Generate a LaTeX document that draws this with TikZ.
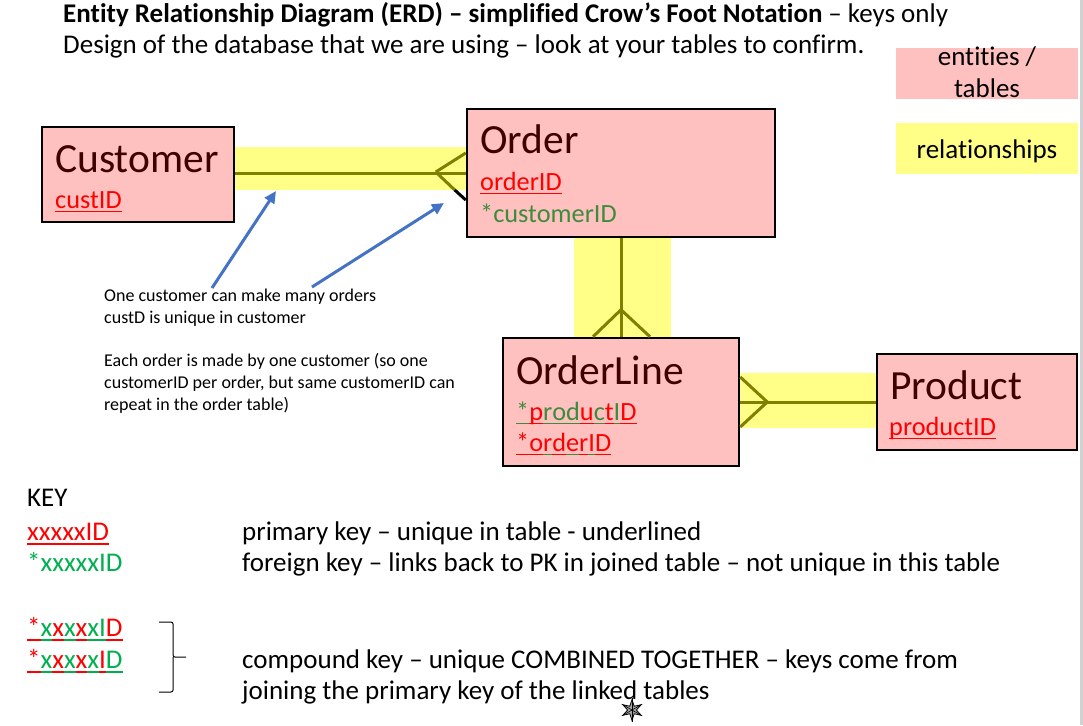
\documentclass[tikz,border=0pt]{standalone}
\usepackage{fontspec}
\setmainfont{Carlito}[Ligatures={NoCommon}]
\usetikzlibrary{arrows.meta,shapes.geometric,calc}
\definecolor{pinkf}{HTML}{FFC0C0}
\definecolor{yell}{HTML}{FFFF88}
\definecolor{olivel}{HTML}{7F7F00}
\definecolor{dred}{HTML}{400000}
\definecolor{kred}{HTML}{FF0000}
\definecolor{bgreen}{HTML}{3C8C3C}
\definecolor{kgreen}{HTML}{00B050}
\definecolor{ablue}{HTML}{4472C4}
\newcommand\ucc[3]{{\setbox0\hbox{\color{#1}#3}\rlap{\color{#2}\rule[-0.17em]{\wd0}{0.07em}}\box0}}
\newcommand\uc[2]{\ucc{#1}{#1}{#2}}
\tikzset{
  entity/.style={draw=black, line width=2.5pt, fill=pinkf, inner sep=0},
  band/.style={fill=yell},
  rel/.style={draw=olivel, line width=3pt},
  txt/.style={anchor=base west, inner sep=0},
  ename/.style={txt, text=dred, font=\fontsize{41.5}{48}\selectfont},
  attr/.style={txt, font=\fontsize{26.3}{32}\selectfont},
  big/.style={txt, font=\fontsize{27}{32}\selectfont},
  note/.style={txt, font=\fontsize{18}{22}\selectfont},
  arrowb/.style={draw=ablue, line width=3pt, -{Triangle[length=12pt,width=11pt]}},
}
\begin{document}
\begin{tikzpicture}[x=1pt,y=-1pt]
\useasboundingbox (0,0) rectangle (1083,725);
\fill[white] (0,0) rectangle (1083,725);
\fill[black!18] (1080,0) rectangle (1083,725);

% title
\node[big] (t1) at (63,23) {\textbf{Entity Relationship Diagram (ERD) – simplified Crow’s Foot Notation} – keys only};
\node[big] (t2) at (63,54) {Design of the database that we are using – look at your tables to confirm.};

% legend
\node[fill=pinkf, minimum width=182pt, minimum height=51pt, inner sep=0] (legE) at (987,73.5) {};
\node[big, anchor=base] (legE1) at (987,66) {entities /};
\node[big, anchor=base] (legE2) at (987,97) {tables};
\node[fill=yell, minimum width=182pt, minimum height=51pt, inner sep=0] (legR) at (987,148.5) {};
\node[big, anchor=base] (legR1) at (987,158) {relationships};

% relationship bands
\fill[band] (234,147) rectangle (467,190);
\fill[band] (574,238) rectangle (671,338);
\fill[band] (739,373) rectangle (877,428);

% entities
\node[entity, minimum width=192pt, minimum height=95pt] (customer) at (138,174.5) {};
\node[entity, minimum width=308pt, minimum height=128pt] (order) at (621,173) {};
\node[entity, minimum width=236pt, minimum height=128pt] (orderline) at (621,402) {};
\node[entity, minimum width=200pt, minimum height=96pt] (product) at (977,402) {};

\node[ename] (cn) at (55,172) {Customer};
\node[attr] (ca) at (55,208) {\uc{kred}{custID}};
\node[ename] (on) at (480,153) {Order};
\node[attr] (oa) at (480,190) {\uc{kred}{orderID}};
\node[attr, text=bgreen] (ob) at (480,222) {*customerID};
\node[ename] (ln) at (516,384) {OrderLine};
\node[attr] (la) at (516,420) {\uc{bgreen}{*}\uc{kred}{p}\uc{bgreen}{r}\uc{bgreen}{o}\uc{bgreen}{d}\uc{kred}{u}\uc{bgreen}{c}\uc{kred}{t}\uc{bgreen}{I}\uc{kred}{D}};
\node[attr] (lb) at (516,451) {\ucc{kred}{kred}{*}\ucc{kred}{kred}{o}\ucc{kred}{bgreen}{r}\ucc{kred}{kred}{d}\ucc{kred}{bgreen}{e}\ucc{kred}{kred}{r}\ucc{kred}{bgreen}{I}\ucc{kred}{kred}{D}};
\node[ename] (pn) at (890,399) {Product};
\node[attr] (pa) at (889,435) {\uc{kred}{productID}};

% relationships
\coordinate (cfA) at ($(order.west)+(-30,-1)$);
\draw[rel] (order.west) -- (order.west -| customer.east);
\draw[rel] (cfA) -- ($(order.west)+(0,-20)$);
\draw[rel] (cfA) -- ($(order.west)+(-11,17)$);
\draw[draw=black, line width=3pt] ($(order.west)+(-11,17)$) -- ($(order.west)+(0,27)$);

\coordinate (cfB) at ($(orderline.north)+(0,-27)$);
\draw[rel] (order.south) -- (orderline.north);
\draw[rel] (cfB) -- ($(orderline.north)+(-28,0)$);
\draw[rel] (cfB) -- ($(orderline.north)+(29,0)$);

\coordinate (cfC) at ($(orderline.east)+(27,0)$);
\draw[rel] (orderline.east) -- (product.west);
\draw[rel] (cfC) -- ($(orderline.east)+(0,-25)$);
\draw[rel] (cfC) -- ($(orderline.east)+(0,25)$);

% notes
\node[note] (n1) at (104,301) {One customer can make many orders};
\node[note] (n2) at (104,323) {custD is unique in customer};
\node[note] (n3) at (104,366) {Each order is made by one customer (so one};
\node[note] (n4) at (104,388) {customerID per order, but same customerID can};
\node[note] (n5) at (104,410) {repeat in the order table)};
\coordinate (a1s) at (212,288);
\coordinate (a1e) at (276,191);
\coordinate (a2s) at (312,287);
\coordinate (a2e) at (444,203);
\draw[arrowb] (a1s) -- (a1e);
\draw[arrowb] (a2s) -- (a2e);

% key
\node[big] (k0) at (27,506) {KEY};
\node[big] (k1) at (27,540) {\uc{kred}{xxxxxID}};
\node[big, text=kgreen] (k2) at (27,571) {*xxxxxID};
\node[big] (k3) at (27,636) {\uc{kred}{*}\uc{kgreen}{x}\uc{kred}{x}\uc{kgreen}{x}\uc{kred}{x}\uc{kgreen}{x}\uc{kgreen}{I}\uc{kred}{D}};
\node[big] (k4) at (27,668) {\uc{kred}{*}\uc{kgreen}{x}\uc{kred}{x}\uc{kgreen}{x}\uc{kred}{x}\uc{kgreen}{x}\uc{kred}{I}\uc{kgreen}{D}};
\node[big] (d1) at (242,540) {primary key – unique in table - underlined};
\node[big] (d2) at (242,571) {foreign key – links back to PK in joined table – not unique in this table};
\node[big] (d3) at (242,668) {compound key – unique COMBINED TOGETHER – keys come from};
\node[big] (d4) at (242,699) {joining the primary key of the linked tables};
\draw[line width=1pt, rounded corners=2pt] (159,622) -- (173,622) -- (173,657) -- (186,657) (173,657) -- (173,692) -- (159,692);

% cursor star
\node[star, star points=6, star point ratio=2.4, minimum size=21pt, inner sep=0, draw=black, fill=black!35, line width=0.8pt] (star) at (632,710) {};
\foreach \i in {1,...,6} \draw[line width=0.6pt] (star.center) -- (star.outer point \i);
\end{tikzpicture}
\end{document}
